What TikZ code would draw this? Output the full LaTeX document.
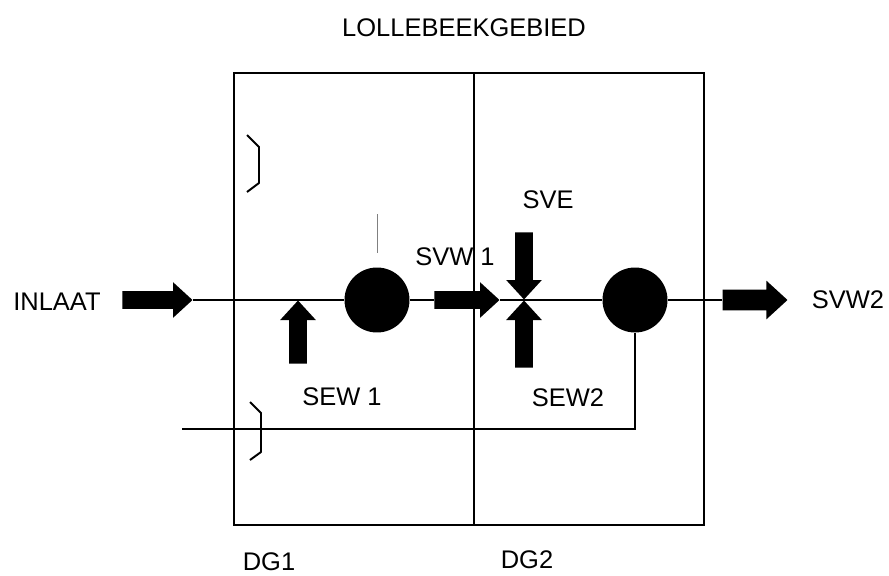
\documentclass[tikz,border=0pt]{standalone}
\usepackage{fontspec}
\setmainfont{Liberation Sans}
\usepackage{tikz}
\usetikzlibrary{shapes.arrows,positioning}

\begin{document}
\begin{tikzpicture}[x=0.02cm,y=-0.02cm,
  lbl/.style={font=\fontsize{14.5}{17}\selectfont,inner sep=1pt},
  blockarrow/.style={single arrow,fill=black,draw=none,inner sep=0.17cm,
    single arrow head extend=0.18cm,single arrow tip angle=85},
  pool/.style={circle,fill=black,minimum size=1.3cm,inner sep=0pt},
  flow/.style={line width=1.7pt},
  wall/.style={line width=1.6pt},
  bracket/.style={line width=1.1pt,line join=round}]
\useasboundingbox (0,0) rectangle (889,575);
% afdelingen
\draw[wall] (234,73) rectangle (704,525);
\draw[wall] (474,73) -- (474,525);
\draw[bracket] (247,135) -- (259,147) -- (259,183) -- (247,192);
\draw[bracket] (250,402) -- (261,413) -- (261,452) -- (250,460);
% teksten
\foreach \n/\x/\y/\t in {titel/464/28/LOLLEBEEKGEBIED,inlaat/57/302/INLAAT,sve/548/200/SVE,
  svwa/455/257/SVW 1,sewa/342/397/SEW 1,sewb/568/398/SEW2,svwb/848/300/SVW2,
  dga/269/562/DG1,dgb/527/560/DG2}{
  \node[lbl] (\n) at (\x,\y) {\t};
}
% bekkens
\node[pool] (c1) at (377,300) {};
\node[pool] (c2) at (635,300) {};
% pijlen
\node[blockarrow,minimum height=1.4cm,anchor=tip] (ain) at (193,300) {};
\node[blockarrow,minimum height=1.26cm,anchor=tip,shape border rotate=90] (asew1) at (298,300) {};
\node[blockarrow,minimum height=1.3cm,anchor=tip] (asvw1) at (500,300) {};
\node[blockarrow,minimum height=1.34cm,anchor=tip,shape border rotate=270] (asve) at (524,300) {};
\node[blockarrow,minimum height=1.34cm,anchor=tip,shape border rotate=90] (asew2) at (524,300) {};
\node[blockarrow,minimum height=1.3cm,anchor=tip,inner sep=0.2cm] (asvw2) at (788,300) {};
% leidingen
\draw[flow] (ain.tip) -- (c1.west);
\draw[flow] (c1.east) -- (asvw1.tail);
\draw[flow] (asvw1.tip) -- (c2.west);
\draw[flow] (c2.east) -- (asvw2.tail);
\coordinate (terug) at (182,429);
\draw[line width=1.1pt] (c2.south) |- (terug);
\draw[gray,line width=0.5pt] (377,214) -- (377,253);
\end{tikzpicture}
\end{document}
